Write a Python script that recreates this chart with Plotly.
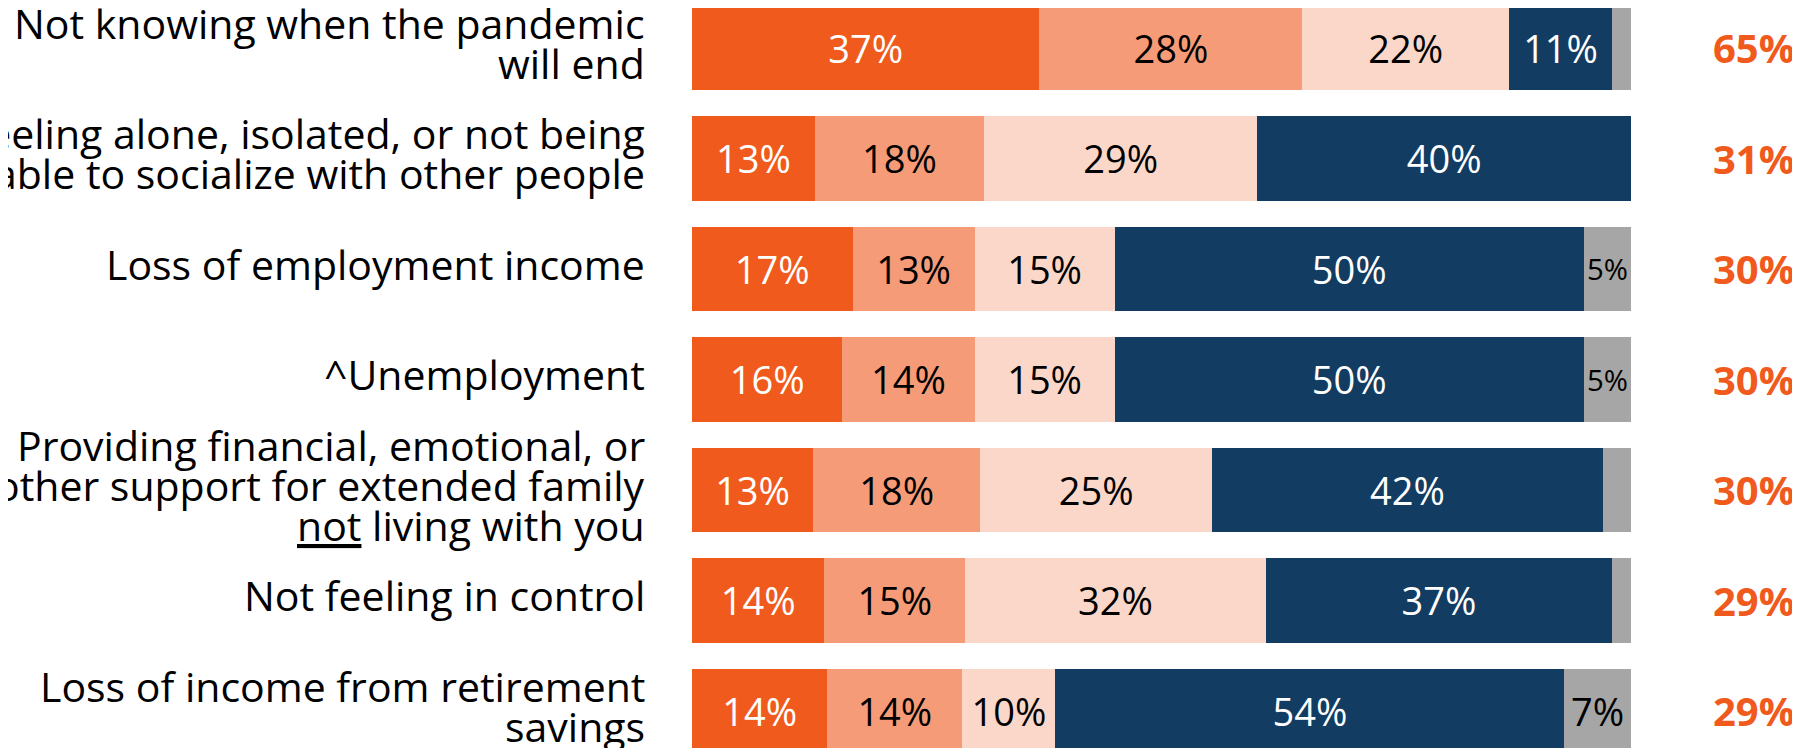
import plotly.graph_objects as go

categories = [
    "Not knowing when the pandemic<br>will end",
    "Feeling alone, isolated, or not being<br>able to socialize with other people",
    "Loss of employment income",
    "^Unemployment",
    "Providing financial, emotional, or<br>other support for extended family<br><u>not</u> living with you",
    "Not feeling in control",
    "Loss of income from retirement<br>savings",
]

series_names = ["Extremely concerned", "Very concerned", "Somewhat concerned",
                "Not concerned", "Don't know"]
extremely = [37, 13.1, 17.1, 16.0, 12.9, 14.1, 14.4]
very = [28, 18.0, 13.0, 14.1, 17.8, 15.0, 14.4]
somewhat = [22, 29.1, 14.9, 14.9, 24.7, 32.0, 9.9]
not_concerned = [11, 39.8, 50.0, 50.0, 41.6, 36.9, 54.2]
dont_know = [2, 0, 5.0, 5.0, 3.0, 2.0, 7.1]
net_totals = [65, 31, 30, 30, 30, 29, 29]

series = [extremely, very, somewhat, not_concerned, dont_know]
colors = ["#F05A1C", "#F69B77", "#FAD7C8", "#123C61", "#A6A6A6"]
text_colors = ["white", "black", "black", "white", "black"]

FONT = "Open Sans"
OFF = 8  # default page body margin
W, H = 1800 - OFF, 748 - OFF
L = 692 - OFF
R = W - (1631 - OFF)
PITCH = 110.5
TOP_CENTER = 47.9 - OFF
y_top = -TOP_CENTER / PITCH
y_bot = y_top + H / PITCH
PW = W - L - R

fig = go.Figure()
for name, vals, col, tcol in zip(series_names, series, colors, text_colors):
    fig.add_trace(go.Bar(
        name=name, x=vals, y=categories, orientation="h",
        width=0.763,
        marker=dict(color=col, line=dict(width=0)),
        text=[f"{round(v)}%" if v >= 4 else "" for v in vals],
        textposition="inside", insidetextanchor="middle", textangle=0,
        textfont=dict(family=FONT, size=38, color=tcol),
        hoverinfo="skip",
    ))

annotations = []
label_x = (647 - OFF - L) / PW
LINE = 40
for cat in categories:
    lines = cat.split("<br>")
    n = len(lines)
    for k, ln in enumerate(lines):
        off = (k - (n - 1) / 2) * LINE
        annotations.append(dict(
            x=label_x, xref="paper", y=cat, yref="y",
            text=ln, showarrow=False, xanchor="right", yanchor="middle",
            yshift=5 - off,
            font=dict(family=FONT, size=41, color="black"),
        ))

tot_x = (1797 - OFF - L) / PW
for cat, t in zip(categories, net_totals):
    annotations.append(dict(
        x=tot_x, xref="paper", y=cat, yref="y",
        text=f"<b>{t}%</b>", showarrow=False, xanchor="right", yanchor="middle",
        font=dict(family=FONT, size=40, color="#F05A1C"),
    ))

fig.update_layout(
    width=W, height=H, barmode="stack",
    margin=dict(l=L, r=R, t=0, b=0, pad=0),
    paper_bgcolor="white", plot_bgcolor="white",
    showlegend=False, hovermode=False,
    xaxis=dict(range=[0, 100], visible=False, fixedrange=True),
    yaxis=dict(categoryorder="array", categoryarray=categories,
               range=[y_bot, y_top], visible=False, fixedrange=True),
    annotations=annotations,
)

fig.write_html("out.html", config={"displayModeBar": False})
